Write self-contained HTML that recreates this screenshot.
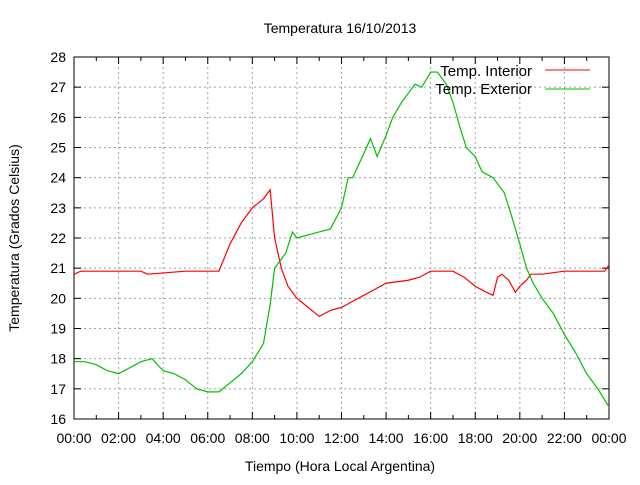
<!DOCTYPE html>
<html><head><meta charset="utf-8"><style>
body{margin:0;background:#fff}
svg text{font-family:"Liberation Sans",sans-serif;font-size:14px;fill:#000}
</style></head><body>
<svg id="chart" width="640" height="480" xmlns="http://www.w3.org/2000/svg">
<rect width="640" height="480" fill="#fff"/>
<text x="340" y="33" text-anchor="middle">Temperatura 16/10/2013</text>
<text x="340" y="471" text-anchor="middle">Tiempo (Hora Local Argentina)</text>
<text transform="translate(19,238) rotate(-90)" text-anchor="middle">Temperatura (Grados Celsius)</text>
<g id="grid"></g><g id="axes"></g><g id="series"></g>
<g>
<text x="532" y="76" text-anchor="end" style="font-size:15px">Temp. Interior</text>
<line x1="545" y1="70" x2="590" y2="70" stroke="#ff0000" stroke-width="1"/>
<text x="532" y="94" text-anchor="end" style="font-size:15px">Temp. Exterior</text>
<line x1="545" y1="89" x2="590" y2="89" stroke="#00c000" stroke-width="1"/>
</g>
</svg>
<script>
const yTicks=[16,17,18,19,20,21,22,23,24,25,26,27,28];
const xTickLabels=["00:00","02:00","04:00","06:00","08:00","10:00","12:00","14:00","16:00","18:00","20:00","22:00","00:00"];
const interiorHours=[0,0.3,3,3.3,5,6.5,7,7.5,8,8.5,8.8,9,9.3,9.6,10,10.5,11,11.5,12,12.5,13,13.5,14,15,15.5,16,17,17.5,18,18.5,18.8,19,19.2,19.5,19.8,20,20.3,20.5,21,22,23.8,24];
const interiorTemps=[20.8,20.9,20.9,20.8,20.9,20.9,21.8,22.5,23.0,23.3,23.6,22.0,21.0,20.4,20.0,19.7,19.4,19.6,19.7,19.9,20.1,20.3,20.5,20.6,20.7,20.9,20.9,20.7,20.4,20.2,20.1,20.7,20.8,20.6,20.2,20.4,20.6,20.8,20.8,20.9,20.9,21.1];
const exteriorHours=[0,0.5,1,1.5,2,2.5,3,3.5,4,4.5,5,5.5,6,6.5,7,7.5,8,8.5,8.8,9,9.5,9.8,10,11,11.5,12,12.3,12.5,13,13.3,13.6,14,14.3,14.7,15,15.3,15.6,16,16.3,16.7,17,17.3,17.6,18,18.3,18.8,19.3,19.6,20,20.3,20.6,21,21.5,22,22.5,23,23.5,24];
const exteriorTemps=[17.9,17.9,17.8,17.6,17.5,17.7,17.9,18.0,17.6,17.5,17.3,17.0,16.9,16.9,17.2,17.5,17.9,18.5,19.8,21.0,21.5,22.2,22.0,22.2,22.3,23.0,24.0,24.0,24.8,25.3,24.7,25.4,26.0,26.5,26.8,27.1,27.0,27.5,27.5,27.1,26.5,25.7,25.0,24.7,24.2,24.0,23.5,22.8,21.8,21.0,20.5,20.0,19.5,18.8,18.2,17.5,17.0,16.4];
const L=74,R=609,T=57,B=419;
const xS=h=>L+(R-L)*h/24;
const yS=v=>B-(B-T)*(v-16)/12;
const NS="http://www.w3.org/2000/svg";
function mk(tag,attrs,parent){const e=document.createElementNS(NS,tag);for(const k in attrs)e.setAttribute(k,attrs[k]);parent.appendChild(e);return e;}
const grid=document.getElementById('grid'),axes=document.getElementById('axes'),series=document.getElementById('series');
yTicks.forEach((v,i)=>{const y=yS(v);
 if(i>0&&i<yTicks.length-1){const g=mk('line',{x1:L,x2:R,y1:y,y2:y,stroke:'#a0a0a0','stroke-dasharray':'2,3'},grid);
 
 }
 mk('line',{x1:L,x2:L+7,y1:y,y2:y,stroke:'#000'},axes);
 mk('line',{x1:R-7,x2:R,y1:y,y2:y,stroke:'#000'},axes);
 const t=mk('text',{x:L-8,y:y+5,'text-anchor':'end'},axes);t.textContent=v;
 
 
});
xTickLabels.forEach((lab,i)=>{const x=xS(i*2);
 if(i>0&&i<xTickLabels.length-1){const g=mk('line',{x1:x,x2:x,y1:T,y2:B,stroke:'#a0a0a0','stroke-dasharray':'2,3'},grid);
 
 }
 mk('line',{x1:x,x2:x,y1:B,y2:B-7,stroke:'#000'},axes);
 mk('line',{x1:x,x2:x,y1:T,y2:T+7,stroke:'#000'},axes);
 if(i<xTickLabels.length-1){const xm=xS(i*2+1);
  mk('line',{x1:xm,x2:xm,y1:B,y2:B-4,stroke:'#000'},axes);
  mk('line',{x1:xm,x2:xm,y1:T,y2:T+4,stroke:'#000'},axes);}
 const t=mk('text',{x:x,y:B+24,'text-anchor':'middle'},axes);t.textContent=lab;
 
 
});
const fr=mk('rect',{x:L,y:T,width:R-L,height:B-T,fill:'none',stroke:'#000'},axes);


function linePath(hs,vs){let d='M'+xS(hs[0])+','+yS(vs[0]);
 for(let i=1;i<hs.length;i++){d+=' L'+xS(hs[i])+','+yS(vs[i]);}return d;}
const p1=mk('path',{d:linePath(interiorHours,interiorTemps),fill:'none',stroke:'#ff0000','stroke-width':1.2},series);


const p2=mk('path',{d:linePath(exteriorHours,exteriorTemps),fill:'none',stroke:'#00c000','stroke-width':1.2},series);


</script>
</body></html>
